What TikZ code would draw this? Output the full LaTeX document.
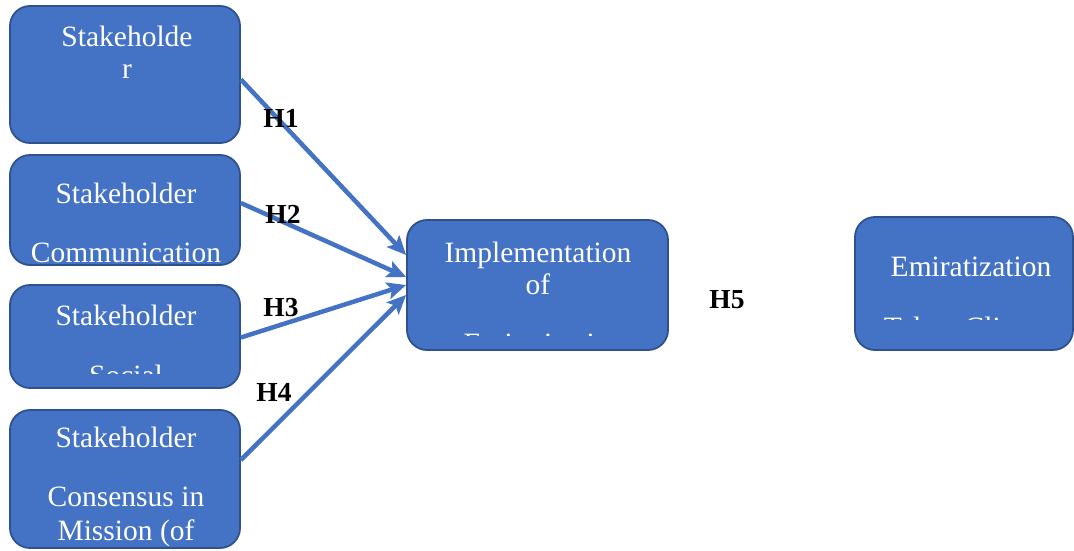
\documentclass[tikz,border=0pt]{standalone}
\usepackage{fontspec}
\setmainfont{Liberation Serif}
\usetikzlibrary{arrows.meta}
\usetikzlibrary{calc}

\begin{document}
\begin{tikzpicture}[x=1pt,y=-1pt,
    box/.style={
      rectangle,
      rounded corners=20pt,
      fill=mblue,
      draw=dblue,
      line width=1.8pt
    },
    boxtext/.style={white,anchor=base,inner sep=0pt,font=\fontsize{29.5}{33}\selectfont},
    hyp/.style={black,inner sep=0pt,font=\fontsize{27.5}{30}\selectfont\bfseries},
    link/.style={-{Stealth[length=19pt,width=17pt,inset=4pt]},line width=4.5pt,mblue}]

\definecolor{mblue}{RGB}{68,114,196}
\definecolor{dblue}{RGB}{47,82,143}

\useasboundingbox (0,0) rectangle (1074,551);

% boxes
\node[box,minimum width=230pt,minimum height=137pt] (s1) at (125,74.5) {};
\node[box,minimum width=230pt,minimum height=110pt] (s2) at (125,210) {};
\node[box,minimum width=230pt,minimum height=103pt] (s3) at (125,336.5) {};
\node[box,minimum width=230pt,minimum height=138pt] (s4) at (125,479) {};
\node[box,minimum width=261pt,minimum height=130pt] (impl) at (537.5,285) {};
\node[box,minimum width=218pt,minimum height=133pt] (emi) at (964,283.5) {};

% texts
\node[boxtext] (s1a) at (127,47) {Stakeholde};
\node[boxtext] (s1b) at (127,78) {r};
\node[boxtext] (s2a) at (126,203) {Stakeholder};
\node[boxtext] (s2b) at (126,262) {Communication};
\node[boxtext] (s3a) at (126,325) {Stakeholder};
\begin{scope}
\clip (10,285) rectangle (240,373);
\node[boxtext] (s3b) at (126,385) {Social};
\end{scope}
\node[boxtext] (s4a) at (126,447) {Stakeholder};
\node[boxtext] (s4b) at (126,506) {Consensus in};
\node[boxtext] (s4c) at (126,540) {Mission (of};
\node[boxtext] (impla) at (538,262) {Implementation};
\node[boxtext] (implb) at (538,294) {of};
\begin{scope}
\clip (407,220) rectangle (668,335);
\node[boxtext] (implc) at (544,353) {Emiratization};
\end{scope}
\node[boxtext] (emia) at (971,276) {Emiratization};
\begin{scope}
\clip (855,217) rectangle (1073,319);
\node[boxtext] (emib) at (971,337) {Talent Climate};
\end{scope}

% links
\draw[link] ([yshift=-5pt]s1.east) -- ([yshift=30pt]impl.west);
\draw[link] ([yshift=7pt]s2.east) -- ([yshift=8pt]impl.west);
\draw[link] ([yshift=-1pt]s3.east) -- ([yshift=0pt]impl.west);
\draw[link] ([yshift=19pt]s4.east) -- ([yshift=-10pt]impl.west);

% hypotheses
\node[hyp] (h1) at (281,118) {H1};
\node[hyp] (h2) at (283,214) {H2};
\node[hyp] (h3) at (281,308) {H3};
\node[hyp] (h4) at (274,392) {H4};
\node[hyp] (h5) at (727,300) {H5};

\end{tikzpicture}
\end{document}
